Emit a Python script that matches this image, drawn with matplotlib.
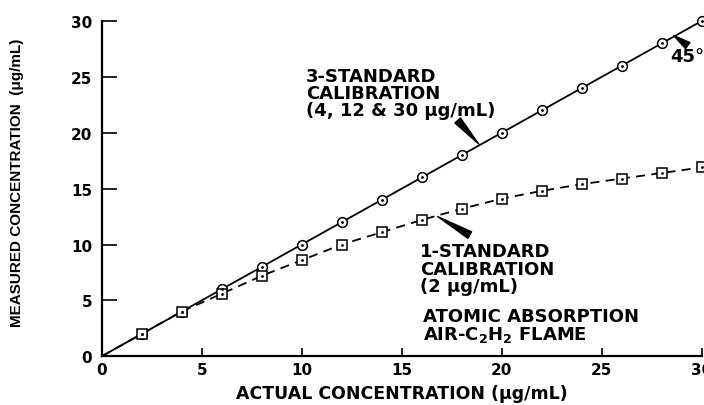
import matplotlib
matplotlib.use('Agg')
import matplotlib.pyplot as plt

# calibration data (ug/mL)
actual = [2, 4, 6, 8, 10, 12, 14, 16, 18, 20, 22, 24, 26, 28, 30]
three_std = [2, 4, 6, 8, 10, 12, 14, 16, 18, 20, 22, 24, 26, 28, 30]
one_std = [2.0, 4.0, 5.6, 7.2, 8.6, 10.0, 11.1, 12.2, 13.2, 14.1, 14.8, 15.4, 15.9, 16.4, 16.9]
ticks = [0, 5, 10, 15, 20, 25, 30]

plt.rcParams['font.family'] = ['DejaVu Sans']
plt.rcParams['font.weight'] = 'bold'
plt.rcParams['mathtext.fontset'] = 'custom'
plt.rcParams['mathtext.rm'] = 'DejaVu Sans:bold'
plt.rcParams['mathtext.default'] = 'rm'

fig = plt.figure(figsize=(7.04, 4.06), dpi=100)
ax = fig.add_axes([101.7 / 704, 48.7 / 406, 600 / 704, 335.3 / 406])

ax.plot([0] + actual, [0] + three_std, color='black', lw=1.3, clip_on=False)
ax.plot([0] + actual, [0] + one_std, color='black', lw=1.3, ls=(0, (5, 3.5)), clip_on=False)
ax.plot(actual, three_std, ls='none', marker='o', ms=7, mfc='white', mec='black', mew=1.1, clip_on=False)
ax.plot(actual, one_std, ls='none', marker='s', ms=6.5, mfc='white', mec='black', mew=1.1, clip_on=False)
ax.plot(actual, three_std, ls='none', marker='.', ms=2, color='black', clip_on=False)
ax.plot(actual, one_std, ls='none', marker='.', ms=2, color='black', clip_on=False)

ax.set_xlim(0, 30)
ax.set_ylim(0, 30)
ax.set_xticks(ticks)
ax.set_yticks(ticks)
for s in ('top', 'right'):
    ax.spines[s].set_visible(False)
for s in ('left', 'bottom'):
    ax.spines[s].set_linewidth(1.6)
ax.tick_params(axis='both', direction='in', width=1.2, labelsize=11)
ax.tick_params(axis='y', length=11, pad=7)
ax.tick_params(axis='x', length=6, pad=4)

ax.set_xlabel('ACTUAL CONCENTRATION (μg/mL)', fontsize=12.5, fontweight='bold', labelpad=5)
ax.set_ylabel('MEASURED CONCENTRATION  (μg/mL)', fontsize=11, fontweight='bold',
              family=['Liberation Sans', 'DejaVu Sans'])
ax.yaxis.set_label_coords(-0.13, 0.52)

txt = dict(fontsize=13, fontweight='bold', va='top', ha='left', linespacing=0.95)
ax.text(10.2, 25.9, '3-STANDARD\nCALIBRATION\n(4, 12 & 30 μg/mL)', **txt)
ax.text(15.9, 10.2, '1-STANDARD\nCALIBRATION\n(2 μg/mL)', **txt)
ax.text(16.05, 4.4, 'ATOMIC ABSORPTION\nAIR-C$_2$H$_2$ FLAME', **txt)
ax.text(28.4, 26.9, '45°', fontsize=13, fontweight='bold', va='center', ha='left', clip_on=False)

wedge = dict(arrowstyle='wedge,tail_width=0.45,shrink_factor=0.5', fc='black', ec='black',
             shrinkA=0, shrinkB=0, mutation_scale=12)
ax.annotate('', xy=(18.85, 19.0), xytext=(17.8, 21.1), arrowprops=wedge)
ax.annotate('', xy=(16.8, 12.5), xytext=(18.4, 10.85), arrowprops=wedge)
ax.annotate('', xy=(28.6, 28.7), xytext=(29.3, 27.8), arrowprops=wedge)

fig.savefig('out.png', dpi=100)
